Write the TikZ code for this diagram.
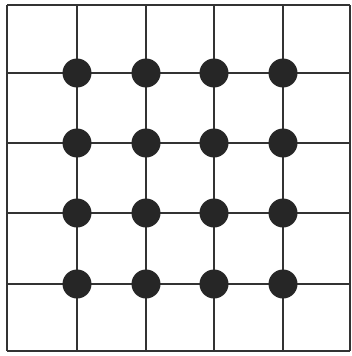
\documentclass[tikz,border=0pt]{standalone}
\usetikzlibrary{positioning}

\begin{document}
\begin{tikzpicture}[
  x=1pt, y=-1pt,
  linea/.style={draw=black!80, line width=1.6pt},
  punto/.style={fill=black!85, draw=none}
]
\useasboundingbox (0,0) rectangle (352,356);
% Rejilla
\foreach \xi in {7,77,146,214,283,350}
  \draw[linea] (\xi,5) -- (\xi,351);
\foreach \yi in {5,73,143,213,284,351}
  \draw[linea] (7,\yi) -- (350,\yi);
% Puntos en las intersecciones interiores
\foreach \xi in {77,146,214,283}
  \foreach \yi in {73,143,213,284}
    \fill[punto] (\xi,\yi) circle (14.5);
\end{tikzpicture}
\end{document}
